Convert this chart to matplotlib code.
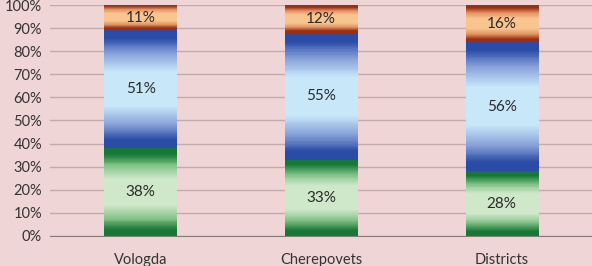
import numpy as np
import matplotlib.pyplot as plt
from matplotlib.colors import LinearSegmentedColormap

# data
cities = ["Vologda", "Cherepovets", "Districts"]
green_part = [38, 33, 28]
blue_part = [51, 55, 56]
orange_part = [11, 12, 16]

plt.rcParams['font.family'] = ['Lato', 'DejaVu Sans']

bg = "#F0D5D6"
fig = plt.figure(figsize=(5.92, 2.66), dpi=100, facecolor=bg)
ax = fig.add_axes([0.085, 0.113, 0.915, 0.868])
ax.set_facecolor(bg)

def grad_cmap(dark, mid, light):
    return LinearSegmentedColormap.from_list(
        "g", [(0, dark), (0.06, dark), (0.2, mid), (0.35, light),
              (0.65, light), (0.8, mid), (0.94, dark), (1, dark)], N=256)

segs = [
    (green_part, grad_cmap("#167834", "#86C48A", "#CFE8CA")),
    (blue_part, grad_cmap("#2A4BA6", "#8AA3DA", "#C8E8FA")),
    (orange_part, grad_cmap("#9C2E15", "#E39462", "#F8C48F")),
]

x = np.arange(len(cities))
bottom = np.zeros(len(cities))
for vals, cmap in segs:
    bars = ax.bar(x, vals, 0.4, bottom=bottom, color="none", zorder=3)
    for b, v in zip(bars, vals):
        x0, y0 = b.get_x(), b.get_y()
        w, h = b.get_width(), b.get_height()
        n = max(int(h * 2.4), 2)
        rgba = cmap(np.linspace(0, 1, n))[:, None, :]
        rgba = np.repeat(rgba, 2, axis=1)
        ax.imshow(rgba, aspect="auto", extent=(x0, x0 + w, y0, y0 + h),
                  origin="lower", zorder=2, interpolation="nearest")
        ax.text(x0 + w / 2, y0 + h / 2, f"{v}%", ha="center", va="center",
                fontsize=11, color="#2a2a2a", zorder=4)
    bottom += np.array(vals)

ax.set_xlim(-0.5, 2.5)
ax.set_ylim(0, 100)
ax.set_yticks(range(0, 101, 10))
ax.set_yticklabels([f"{v}%" for v in range(0, 101, 10)])
ax.set_xticks(x)
ax.set_xticklabels(cities)
ax.yaxis.grid(True, color="#C2ABAB", linewidth=1, zorder=0)
ax.set_axisbelow(True)
for s in ["top", "right", "left"]:
    ax.spines[s].set_visible(False)
ax.spines["bottom"].set_color("#8A7A7A")
ax.tick_params(axis="both", length=0, labelsize=10.5, colors="#333333")
ax.tick_params(axis="x", pad=12)
ax.tick_params(axis="y", pad=6)

fig.savefig("out.png", dpi=100, facecolor=bg)
